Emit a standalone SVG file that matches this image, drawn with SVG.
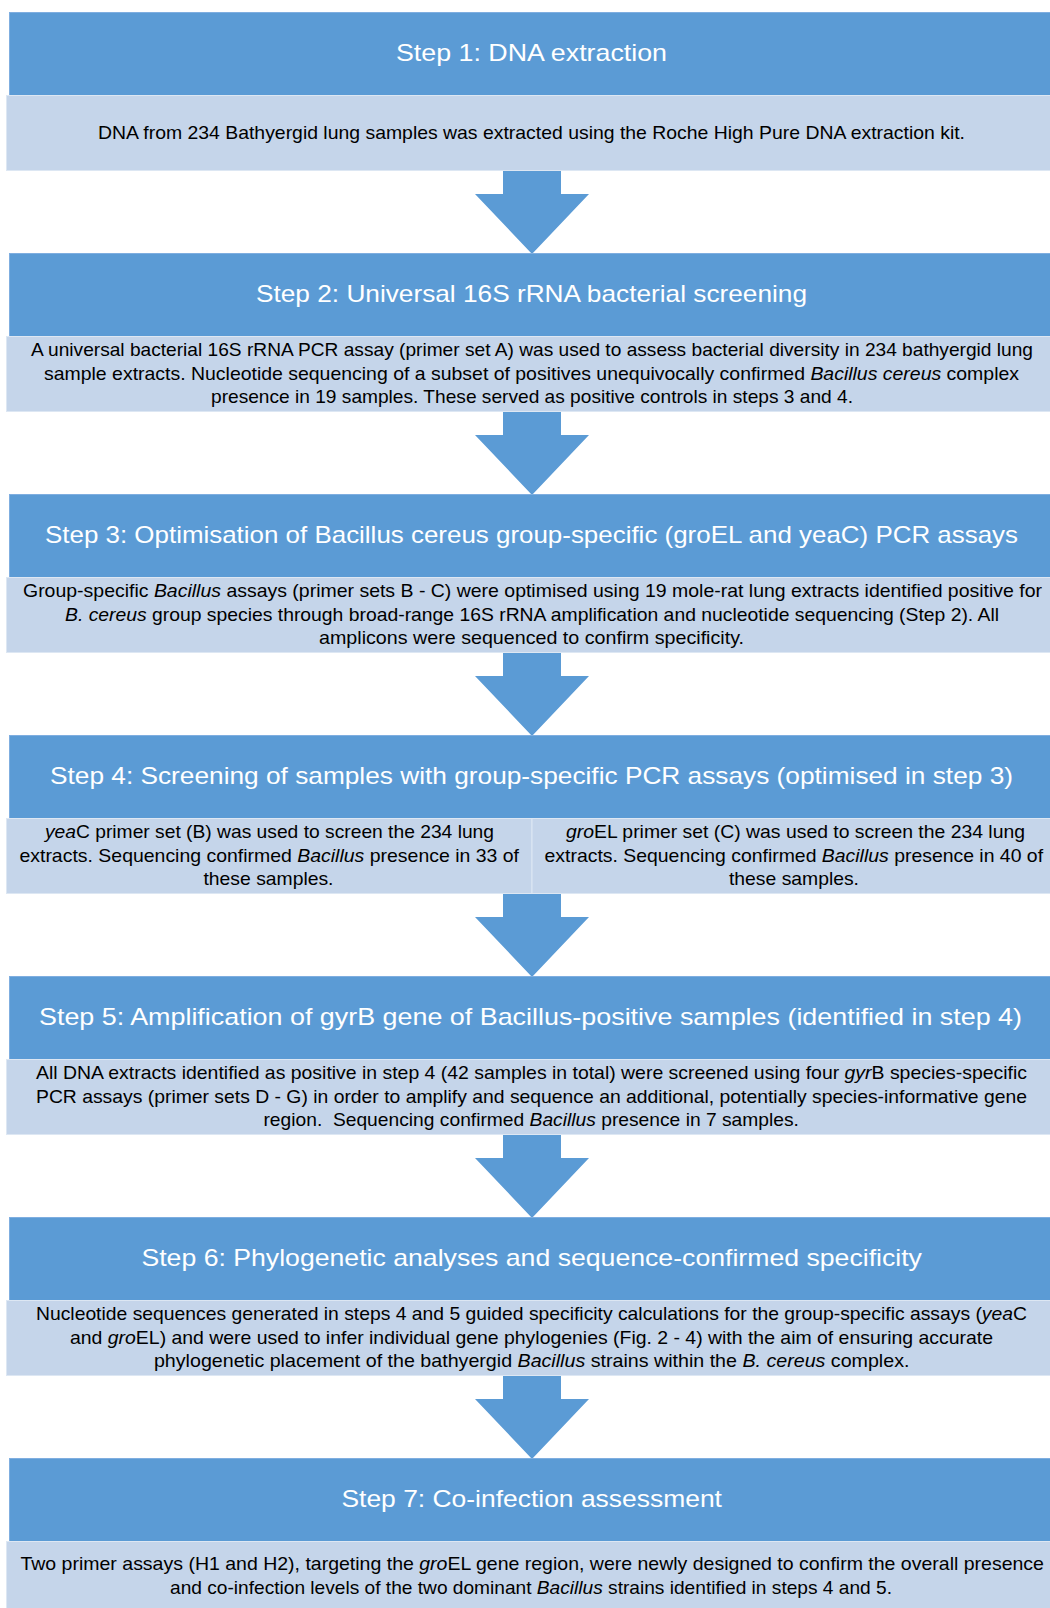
<svg xmlns="http://www.w3.org/2000/svg" width="1050" height="1608" viewBox="0 0 1050 1608">
<style>
.hdr{fill:#5B9BD5;stroke:#7FAEE0;stroke-width:1}
.bdy{fill:#C5D5EA;stroke:#DDE7F3;stroke-width:1}
.arr{fill:#5B9BD5}
.t{font-family:"Liberation Sans",Arial,sans-serif;font-size:24px;fill:#FFFFFF;text-anchor:middle}
.b{font-family:"Liberation Sans",Arial,sans-serif;font-size:19px;fill:#000000;text-anchor:middle}
.i{font-style:italic}
</style>
<rect width="1050" height="1608" fill="#FFFFFF"/>
<g id="connectors">
<path class="arr" d="M503,170 H561 V194 H589 L532,254 L475,194 H503 Z"/>
<path class="arr" d="M503,411 H561 V435 H589 L532,495 L475,435 H503 Z"/>
<path class="arr" d="M503,652 H561 V676 H589 L532,736 L475,676 H503 Z"/>
<path class="arr" d="M503,893 H561 V917 H589 L532,977 L475,917 H503 Z"/>
<path class="arr" d="M503,1134 H561 V1158 H589 L532,1218 L475,1158 H503 Z"/>
<path class="arr" d="M503,1375 H561 V1399 H589 L532,1459 L475,1399 H503 Z"/>
</g>
<g id="step1">
<rect class="hdr" x="9.5" y="12.5" width="1050" height="83"/>
<rect class="bdy" x="6.5" y="95.5" width="1055" height="75"/>
<text class="t" x="531.5" y="61" textLength="271" lengthAdjust="spacingAndGlyphs">Step 1: DNA extraction</text>
<text class="b" x="531.5" y="138.5" textLength="867" lengthAdjust="spacingAndGlyphs">DNA from 234 Bathyergid lung samples was extracted using the Roche High Pure DNA extraction kit.</text>
</g>
<g id="step2">
<rect class="hdr" x="9.5" y="253.5" width="1050" height="83"/>
<rect class="bdy" x="6.5" y="336.5" width="1055" height="75"/>
<text class="t" x="531.5" y="302" textLength="551" lengthAdjust="spacingAndGlyphs">Step 2: Universal 16S rRNA bacterial screening</text>
<text class="b" x="532" y="356" textLength="1002" lengthAdjust="spacingAndGlyphs">A universal bacterial 16S rRNA PCR assay (primer set A) was used to assess bacterial diversity in 234 bathyergid lung</text>
<text class="b" x="531.5" y="379.6" textLength="975" lengthAdjust="spacingAndGlyphs">sample extracts. Nucleotide sequencing of a subset of positives unequivocally confirmed <tspan class="i">Bacillus cereus</tspan> complex</text>
<text class="b" x="532" y="403.2" textLength="642" lengthAdjust="spacingAndGlyphs">presence in 19 samples. These served as positive controls in steps 3 and 4.</text>
</g>
<g id="step3">
<rect class="hdr" x="9.5" y="494.5" width="1050" height="83"/>
<rect class="bdy" x="6.5" y="577.5" width="1055" height="75"/>
<text class="t" x="531.5" y="543" textLength="973" lengthAdjust="spacingAndGlyphs">Step 3: Optimisation of Bacillus cereus group-specific (groEL and yeaC) PCR assays</text>
<text class="b" x="532.5" y="597" textLength="1019" lengthAdjust="spacingAndGlyphs">Group-specific <tspan class="i">Bacillus</tspan> assays (primer sets B - C) were optimised using 19 mole-rat lung extracts identified positive for</text>
<text class="b" x="532" y="620.6" textLength="934" lengthAdjust="spacingAndGlyphs"><tspan class="i">B. cereus</tspan> group species through broad-range 16S rRNA amplification and nucleotide sequencing (Step 2). All</text>
<text class="b" x="531.5" y="644.2" textLength="425" lengthAdjust="spacingAndGlyphs">amplicons were sequenced to confirm specificity.</text>
</g>
<g id="step4">
<rect class="hdr" x="9.5" y="735.5" width="1050" height="83"/>
<rect class="bdy" x="6.5" y="818.5" width="525.5" height="75"/>
<rect class="bdy" x="532" y="818.5" width="530" height="75"/>
<text class="t" x="531.5" y="784" textLength="963" lengthAdjust="spacingAndGlyphs">Step 4: Screening of samples with group-specific PCR assays (optimised in step 3)</text>
<text class="b" x="269.5" y="838" textLength="449" lengthAdjust="spacingAndGlyphs"><tspan class="i">yea</tspan>C primer set (B) was used to screen the 234 lung</text>
<text class="b" x="269.2" y="861.6" textLength="499.5" lengthAdjust="spacingAndGlyphs">extracts. Sequencing confirmed <tspan class="i">Bacillus</tspan> presence in 33 of</text>
<text class="b" x="268.5" y="885.2" textLength="130" lengthAdjust="spacingAndGlyphs">these samples.</text>
<text class="b" x="795.5" y="838" textLength="459" lengthAdjust="spacingAndGlyphs"><tspan class="i">gro</tspan>EL primer set (C) was used to screen the 234 lung</text>
<text class="b" x="793.8" y="861.6" textLength="498.5" lengthAdjust="spacingAndGlyphs">extracts. Sequencing confirmed <tspan class="i">Bacillus</tspan> presence in 40 of</text>
<text class="b" x="794" y="885.2" textLength="130" lengthAdjust="spacingAndGlyphs">these samples.</text>
</g>
<g id="step5">
<rect class="hdr" x="9.5" y="976.5" width="1050" height="83"/>
<rect class="bdy" x="6.5" y="1059.5" width="1055" height="75"/>
<text class="t" x="530.5" y="1025" textLength="983" lengthAdjust="spacingAndGlyphs">Step 5: Amplification of gyrB gene of Bacillus-positive samples (identified in step 4)</text>
<text class="b" x="531.5" y="1079" textLength="991" lengthAdjust="spacingAndGlyphs">All DNA extracts identified as positive in step 4 (42 samples in total) were screened using four <tspan class="i">gyr</tspan>B species-specific</text>
<text class="b" x="531.5" y="1102.6" textLength="991" lengthAdjust="spacingAndGlyphs">PCR assays (primer sets D - G) in order to amplify and sequence an additional, potentially species-informative gene</text>
<text class="b" x="531.2" y="1126.2" textLength="535.5" lengthAdjust="spacingAndGlyphs">region. &#160;Sequencing confirmed <tspan class="i">Bacillus</tspan> presence in 7 samples.</text>
</g>
<g id="step6">
<rect class="hdr" x="9.5" y="1217.5" width="1050" height="83"/>
<rect class="bdy" x="6.5" y="1300.5" width="1055" height="75"/>
<text class="t" x="531.7" y="1266" textLength="780.5" lengthAdjust="spacingAndGlyphs">Step 6: Phylogenetic analyses and sequence-confirmed specificity</text>
<text class="b" x="531.5" y="1320" textLength="991" lengthAdjust="spacingAndGlyphs">Nucleotide sequences generated in steps 4 and 5 guided specificity calculations for the group-specific assays (<tspan class="i">yea</tspan>C</text>
<text class="b" x="531.5" y="1343.6" textLength="923" lengthAdjust="spacingAndGlyphs">and <tspan class="i">gro</tspan>EL) and were used to infer individual gene phylogenies (Fig. 2 - 4) with the aim of ensuring accurate</text>
<text class="b" x="531.7" y="1367.2" textLength="755.5" lengthAdjust="spacingAndGlyphs">phylogenetic placement of the bathyergid <tspan class="i">Bacillus</tspan> strains within the <tspan class="i">B. cereus</tspan> complex.</text>
</g>
<g id="step7">
<rect class="hdr" x="9.5" y="1458.5" width="1050" height="83"/>
<rect class="bdy" x="6.5" y="1541.5" width="1055" height="75"/>
<text class="t" x="531.7" y="1507" textLength="380.5" lengthAdjust="spacingAndGlyphs">Step 7: Co-infection assessment</text>
<text class="b" x="532.2" y="1570" textLength="1023.5" lengthAdjust="spacingAndGlyphs">Two primer assays (H1 and H2), targeting the <tspan class="i">gro</tspan>EL gene region, were newly designed to confirm the overall presence</text>
<text class="b" x="531" y="1593.6" textLength="722" lengthAdjust="spacingAndGlyphs">and co-infection levels of the two dominant <tspan class="i">Bacillus</tspan> strains identified in steps 4 and 5.</text>
</g>
</svg>
